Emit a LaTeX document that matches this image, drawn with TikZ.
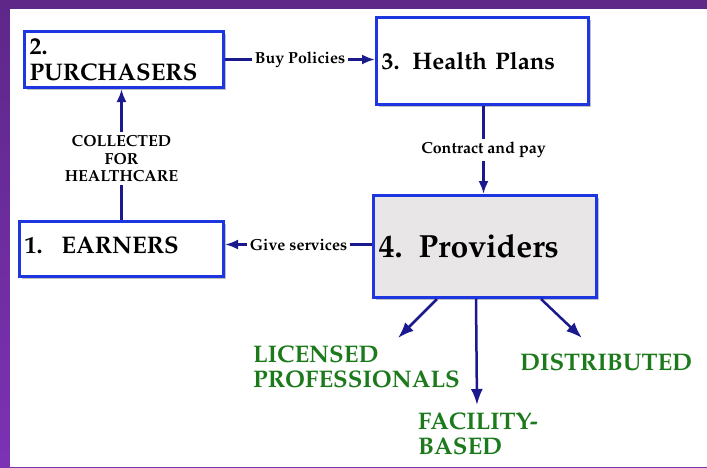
\documentclass[tikz,border=0pt]{standalone}
\usepackage[T1]{fontenc}
\usepackage{mathpazo}
\usepackage{tikz}
\usetikzlibrary{positioning,arrows.meta,shadows}

\definecolor{boxblue}{HTML}{1E36E0}
\definecolor{arrownavy}{HTML}{1A1A8E}
\definecolor{provgray}{HTML}{E8E6E6}
\definecolor{labelgreen}{HTML}{1C7A1C}
\definecolor{purptop}{HTML}{5E2788}
\definecolor{purpbot}{HTML}{7C32B4}

\begin{document}
\begin{tikzpicture}[
    x=1pt, y=-1pt,
    box/.style={rectangle, draw=boxblue, line width=3pt, fill=white, anchor=north west, align=left,
        inner sep=5pt, font=\bfseries\fontsize{24}{26}\selectfont,
        drop shadow={shadow xshift=2.5pt, shadow yshift=-2.5pt, opacity=0.4, fill=black!60}},
    arrow/.style={-{Latex[length=13pt,width=10pt]}, line width=2.5pt, draw=arrownavy},
    flowlabel/.style={fill=white, inner sep=3pt, font=\bfseries\fontsize{16}{17.5}\selectfont, align=center},
    kind/.style={anchor=north west, align=left, inner sep=0pt, text=labelgreen,
        font=\bfseries\fontsize{24}{25}\selectfont}
]

% Background
\useasboundingbox (0,0) rectangle (707,467);
\shade[top color=purptop, bottom color=purpbot] (0,0) rectangle (707,467);
\fill[white] (10,9) rectangle (707,467);

% Nodes
\node[box, text width=189pt, minimum height=56pt] (purch) at (23,30) {2.\\PURCHASERS};
\node[box, text width=202pt, minimum height=87pt] (plans) at (375,16) {3.\hspace*{13pt}Health Plans};
\node[box, text width=194pt, minimum height=55pt, text height=17pt, text depth=8pt] (earners) at (18,220) {1.\hspace*{19pt}EARNERS};
\node[box, fill=provgray, text width=213pt, minimum height=102pt,
      font=\bfseries\fontsize{32}{34}\selectfont] (prov) at (372,194) {4.\hspace*{16pt}Providers};

\node[kind] (licensed) at (253,345) {LICENSED\\PROFESSIONALS};
\node[kind] (facility) at (418,412) {FACILITY-\\BASED};
\node[kind] (distrib) at (520,353) {DISTRIBUTED};

\coordinate (licTip) at (398,338);
\coordinate (facTip) at (477,405);
\coordinate (disTip) at (582,338);

% Arrows
\draw[arrow] (purch.east) -- node[flowlabel] {Buy Policies} (purch.east -| plans.west);
\draw[arrow] (earners.north) -- node[flowlabel, yshift=-4pt] {COLLECTED\\FOR\\HEALTHCARE} (earners.north |- purch.south);
\draw[arrow] ([xshift=1pt]plans.south) -- node[flowlabel] {Contract and pay} ([xshift=1pt]plans.south |- prov.north);
\draw[arrow] ([yshift=2pt]prov.west) -- node[flowlabel] {Give services} ([yshift=2pt]prov.west -| earners.east);
\draw[arrow, arrows={-Latex[length=16pt,width=12pt]}] ([xshift=-48pt]prov.south) -- (licTip);
\draw[arrow, arrows={-Latex[length=16pt,width=12pt]}] ([xshift=-9pt]prov.south) -- (facTip);
\draw[arrow, arrows={-Latex[length=16pt,width=12pt]}] ([xshift=56pt]prov.south) -- (disTip);

\end{tikzpicture}
\end{document}
